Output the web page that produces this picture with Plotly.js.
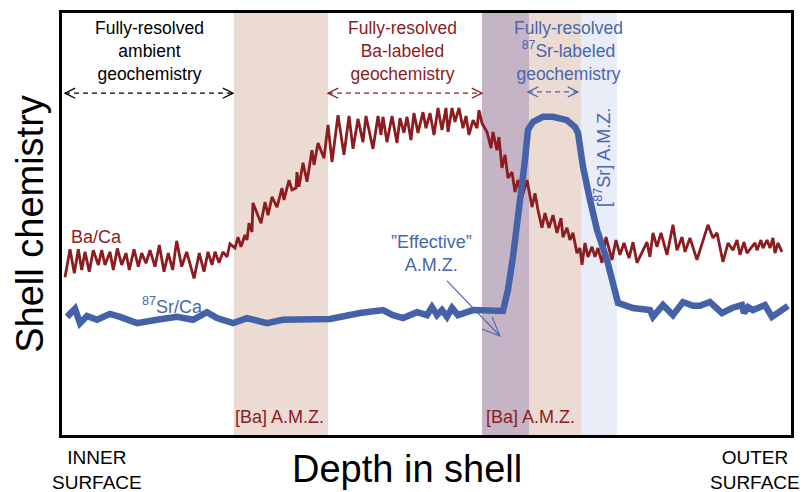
<!DOCTYPE html>
<html>
<head>
<meta charset="utf-8">
<script src="https://cdn.plot.ly/plotly-3.0.1.min.js"></script>
<style>html,body{margin:0;padding:0;background:#fff;}#chart{width:806px;height:492px;}</style>
</head>
<body>
<div id="chart"></div>
<script>
// ---- Data (arbitrary units: depth 0-100, shell chemistry 0-100) ----
const depthBa = [0.41,1.10,1.69,2.24,2.70,3.16,3.74,4.29,4.98,5.45,5.90,6.58,7.04,7.59,8.19,8.78,9.23,9.88,10.47,10.93,11.52,12.07,12.76,13.35,13.99,14.58,15.18,15.73,16.42,17.10,18.11,18.83,19.48,20.03,20.58,20.99,21.54,22.08,22.63,23.04,23.73,24.14,24.55,25.10,25.38,25.65,26.06,26.20,27.30,27.85,28.26,28.81,29.49,30.18,30.45,31.14,31.55,32.10,32.23,32.51,33.06,33.61,34.29,34.57,35.12,35.94,36.49,37.04,37.86,38.68,39.37,39.92,40.60,41.29,41.70,42.66,43.35,43.76,44.03,44.58,45.27,45.95,46.36,46.91,47.32,47.87,48.28,48.83,49.52,49.93,50.48,51.03,51.58,52.12,52.67,52.95,53.50,53.91,54.46,55.00,55.42,55.83,56.38,56.93,57.20,57.61,58.30,58.85,59.12,59.67,59.94,60.35,60.77,61.18,61.73,62.14,62.55,63.10,63.79,64.47,64.88,65.29,65.84,66.25,66.80,67.35,67.90,68.45,68.72,69.27,69.68,70.09,70.64,71.05,71.33,71.74,72.15,72.70,73.11,73.52,74.07,74.62,75.44,75.99,76.54,77.09,77.78,78.33,78.87,79.56,80.24,80.65,81.07,81.62,82.17,82.99,83.81,84.36,85.05,85.46,86.14,87.10,87.93,88.61,89.30,89.85,90.67,91.36,92.04,92.59,93.00,93.55,93.96,94.65,95.06,95.33,95.88,96.16,96.71,97.12,97.53,97.80,98.22,98.76];
const baCa = [37.4,44.0,38.3,44.0,39.1,43.4,38.7,43.8,40.3,43.8,40.3,43.4,39.1,44.2,40.3,43.1,39.1,44.0,39.9,43.1,40.7,43.8,39.9,45.0,38.7,43.1,39.1,46.0,39.9,43.4,37.1,43.1,38.7,43.4,40.3,43.4,40.8,43.4,42.2,45.3,44.3,46.9,44.6,47.4,46.2,50.2,48.1,55.0,50.2,55.2,52.1,56.4,54.0,58.5,55.7,60.4,58.1,58.5,62.3,58.8,64.5,60.0,67.5,64.0,69.2,65.6,73.5,64.7,75.8,66.4,75.6,67.8,74.9,69.4,75.6,67.8,75.6,71.1,75.4,69.4,75.6,69.2,75.1,71.6,75.4,69.9,76.3,71.6,76.5,72.7,76.3,71.1,77.5,72.3,77.5,71.8,77.5,74.2,77.5,72.7,75.6,71.1,74.6,72.7,77.0,73.9,71.8,68.0,71.8,67.5,70.6,63.3,66.4,60.9,62.3,57.6,60.4,56.4,60.4,54.0,57.3,53.3,49.1,52.6,49.1,52.1,47.9,51.4,46.9,49.1,46.2,47.9,43.1,44.3,40.3,45.5,42.2,44.6,42.2,44.3,40.8,46.9,41.5,46.2,42.7,45.5,41.9,45.7,40.8,43.4,45.7,42.2,47.9,44.6,47.9,42.7,49.8,43.8,46.9,43.4,46.7,41.5,46.2,49.8,46.7,47.9,41.0,45.5,43.8,46.2,42.7,45.7,43.1,44.6,45.5,43.8,46.2,44.3,46.2,44.3,46.7,43.1,45.5,43.4];

const depthSr = [0.69,1.78,2.47,3.43,4.80,6.58,7.96,10.29,13.03,15.77,17.97,19.89,21.26,23.46,25.38,28.12,30.31,32.65,36.76,40.88,42.66,44.03,45.40,46.78,48.70,50.07,50.75,51.44,52.12,52.81,53.50,54.32,55.55,56.38,60.49,61.18,61.86,62.82,63.51,63.92,64.61,65.98,67.35,69.27,70.37,70.78,71.47,72.43,73.39,74.76,75.85,76.27,78.33,80.65,81.07,82.44,83.81,85.18,86.55,87.51,88.88,90.53,91.90,93.27,93.55,94.10,94.78,96.43,97.39,98.49,99.59];
const srCa = [28.0,29.9,26.5,28.2,27.3,28.7,28.0,26.5,27.3,28.0,27.3,29.1,27.7,26.5,27.7,26.5,27.3,27.3,27.5,28.9,29.1,29.6,28.4,27.7,29.1,28.4,30.3,28.4,29.6,28.0,30.1,28.4,29.1,29.6,29.4,34.4,42.2,54.0,65.2,72.3,74.2,75.4,75.4,74.6,73.0,71.6,63.5,55.7,48.6,41.5,35.1,31.3,30.1,29.6,28.0,30.8,28.4,31.5,30.6,30.6,31.5,28.9,30.1,30.8,28.9,30.3,29.6,30.8,28.0,29.1,30.6];

// Anomalous-material zones (depth units)
const zoneStart = [23.59, 57.61, 64.06, 71.19];
const zoneEnd   = [36.49, 64.06, 71.19, 76.13];

// "Fully-resolved" spans (depth units) and their height
const spanStart = [0.41, 36.49, 63.92];
const spanEnd   = [23.46, 57.61, 70.78];
const spanY     = [81.0, 81.0, 81.3];

// ---- Styles ----
const RED = '#8c1c1f', BLUE = '#4561a8', TBLUE = '#4a66ad';
const zoneColors = ['#ecdbd2', '#c5b4c5', '#ecdbd2', '#e9edf8'];
const spanColors = ['#000000', RED, TBLUE];
const FONT = 'Liberation Sans, Arial, Helvetica, sans-serif';

const shapes = [];
zoneStart.forEach((s, i) => {
  shapes.push({type: 'rect', xref: 'x', yref: 'paper', x0: s, x1: zoneEnd[i], y0: 0, y1: 1,
    fillcolor: zoneColors[i], line: {width: 0}, layer: 'below'});
});
const HL = 1.4, HH = 1.2;
spanStart.forEach((s, i) => {
  const e = spanEnd[i], y = spanY[i], c = spanColors[i];
  shapes.push({type: 'line', x0: s, x1: e, y0: y, y1: y, line: {color: c, width: 1.3, dash: '5px,4px'}});
  shapes.push({type: 'path', path: `M ${s + HL} ${y + HH} L ${s} ${y} L ${s + HL} ${y - HH}`, line: {color: c, width: 1.3}});
  shapes.push({type: 'path', path: `M ${e - HL} ${y + HH} L ${e} ${y} L ${e - HL} ${y - HH}`, line: {color: c, width: 1.3}});
});
// "Effective" A.M.Z. pointer
shapes.push({type: 'path', path: 'M 52.81 36.5 L 60.08 23.46 M 57.61 25.1 L 60.08 23.46 L 58.99 28.0', line: {color: TBLUE, width: 1.1}});

const ann = (text, x, y, color, size, extra) => Object.assign({
  text, x, y, xref: 'x', yref: 'y', showarrow: false,
  font: {family: FONT, size, color}, xanchor: 'center', yanchor: 'middle'
}, extra || {});

const annotations = [
  ann('Fully-resolved<br>ambient<br>geochemistry', 12.07, 91.0, '#000', 17.5),
  ann('Fully-resolved<br>Ba-labeled<br>geochemistry', 46.70, 91.0, RED, 17.5),
  ann('Fully-resolved<br><sup>87</sup>Sr-labeled<br>geochemistry', 69.41, 91.0, TBLUE, 17.5),
  ann('[<sup>87</sup>Sr] A.M.Z.', 74.21, 65.9, TBLUE, 18, {textangle: -90}),
  ann('Ba/Ca', 4.76, 47.0, RED, 18),
  ann('<sup>87</sup>Sr/Ca', 15.2, 30.8, TBLUE, 18),
  ann('”Effective”<br>A.M.Z.', 50.71, 43.1, TBLUE, 18),
  ann('[Ba] A.M.Z.', 29.9, 4.3, RED, 18),
  ann('[Ba] A.M.Z.', 64.33, 4.3, RED, 18),
  // texts below the frame (paper-referenced in y)
  ann('Depth in shell', 47.3, -0.08, '#000', 38, {yref: 'paper'}),
  ann('INNER<br>SURFACE', 4.8, -0.084, '#000', 19, {yref: 'paper'}),
  ann('OUTER<br>SURFACE', 95.0, -0.084, '#000', 19, {yref: 'paper'})
];

const traces = [
  {x: depthBa, y: baCa, type: 'scatter', mode: 'lines', name: 'Ba/Ca',
   line: {color: RED, width: 2.8}, hoverinfo: 'skip'},
  {x: depthSr, y: srCa, type: 'scatter', mode: 'lines', name: '87Sr/Ca',
   line: {color: BLUE, width: 6.5}, hoverinfo: 'skip'}
];

const axisCommon = {showgrid: false, zeroline: false, showticklabels: false, ticks: '',
  showline: true, mirror: true, linecolor: '#000', linewidth: 3, fixedrange: true};

const layout = {
  width: 806, height: 492,
  margin: {l: 62, r: 15, t: 13, b: 57},
  paper_bgcolor: '#fff', plot_bgcolor: '#fff',
  showlegend: false,
  font: {family: FONT, color: '#000'},
  xaxis: Object.assign({range: [0, 100]}, axisCommon),
  yaxis: Object.assign({range: [0, 100], title: {text: 'Shell chemistry', font: {family: FONT, size: 38, color: '#000'}, standoff: 4}}, axisCommon),
  shapes, annotations
};

Plotly.newPlot('chart', traces, layout, {displayModeBar: false, staticPlot: true});
</script>
</body>
</html>
